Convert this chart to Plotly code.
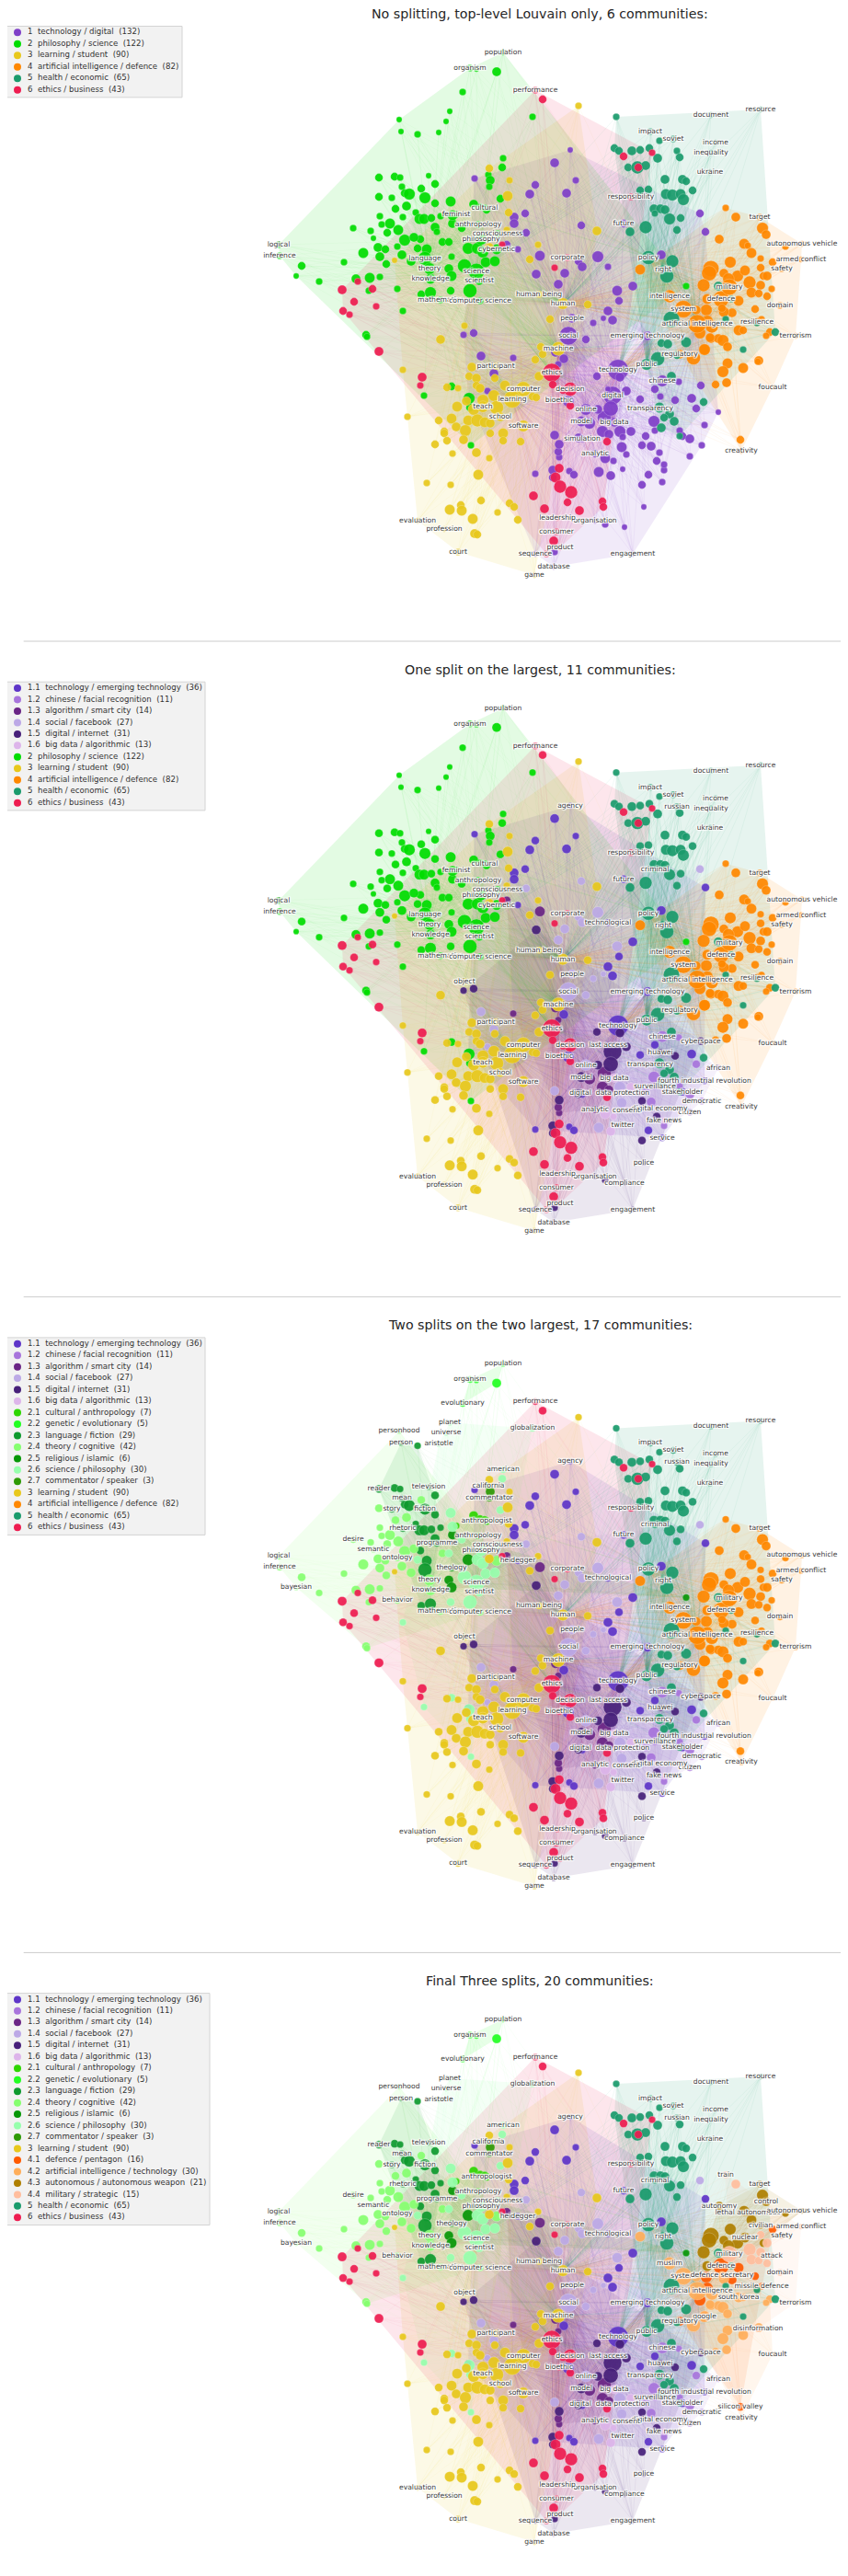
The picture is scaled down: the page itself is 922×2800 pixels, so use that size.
"""
Louvain community splits on a co-occurrence network: four stacked panels,
each one the same layout, with hulls, faint edges, nodes and word labels.
Node positions are read off the picture, in pixels of the first panel.
"""
import plotly.graph_objects as go

# node = (x, y, radius) or (x, y, radius, label) or (x, y, radius, label, first panel, last panel)

# --- 1 technology
c11 = [
    (620, 163, 2.5, "agency", 2, 4), (603, 177, 4), (582, 201, 3.5), (576, 211, 4), (626, 196, 3), (616, 210, 4),
    (571, 232, 3.5), (559, 236, 4), (559, 243, 4), (719, 277, 4), (767, 252, 3.5), (678, 243, 3.5, "future"),
    (688, 311, 4), (673, 327, 3.5), (661, 338, 4), (666, 348, 4), (704, 365, 4, "emerging technology"),
    (672, 402, 9, "technology"), (613, 390, 4), (696, 434, 3.5), (712, 423, 3.5), (752, 433, 4), (705, 516, 3.5),
    (619, 512, 3), (624, 516, 3.5), (582, 515, 3), (509, 431, 3), (618, 436, 5), (720, 524, 3, "service", 2, 4),
    (563, 271, 3, "heidegger", 3, 4), (516, 194, 3), (661, 290, 3, "technological", 2, 4), (633, 477, 3, "simulation", 1, 1),
    (766, 462, 3, "fourth industrial revolution", 2, 4), (742, 474, 3.5, "stakeholder", 2, 4),
]
c12 = [
    (720, 414, 5, "chinese"), (757, 444, 3.5), (738, 415, 3), (711, 458, 5), (708, 485, 4), (702, 474, 3.5),
    (750, 477, 4), (722, 511, 3), (739, 468, 3), (763, 484, 3, "democratic", 2, 4), (750, 496, 3, "citizen", 2, 4),
    (781, 448, 2.5, "african", 2, 4), (712, 468, 3, "surveillance", 2, 4),
]
c13 = [
    (587, 278, 4.5), (551, 266, 3.5), (558, 389, 3), (607, 396, 3), (604, 383, 4), (657, 454, 6), (655, 469, 5),
    (641, 460, 5), (608, 497, 3), (607, 491, 3.5), (647, 493, 3.5, "analytic"), (662, 472, 4),
]
c14 = [
    (572, 253, 3.5), (632, 245, 3.5), (650, 279, 5), (629, 284, 3.5), (633, 290, 4), (614, 297, 4), (607, 309, 4),
    (671, 316, 4.5), (761, 232, 3.5), (645, 351, 3), (618, 365, 8, "social"), (637, 369, 3.5), (622, 346, 4, "people"),
    (523, 387, 4), (537, 406, 4), (530, 425, 3), (603, 473, 4), (674, 469, 5), (676, 486, 4.5),
    (637, 445, 5, "online"), (651, 513, 4.5), (656, 346, 2.5), (717, 492, 3, "digital economy", 2, 4),
]
c15 = [
    (504, 364, 3), (515, 362, 3.5), (649, 409, 3.5), (674, 410, 4), (666, 430, 8, "digital", 1, 1), (664, 444, 6.5),
    (681, 425, 4), (650, 445, 4), (734, 435, 3.5), (698, 484, 3.5), (714, 501, 3.5), (698, 527, 3.5), (608, 483, 4),
    (583, 298, 4), (762, 419, 3.5, "cyberspace", 2, 4), (601, 511, 4), (601, 519, 3.5), (603, 600, 3),
    (632, 458, 4.5, "model"), (629, 476, 4), (718, 431, 3, "huawei", 2, 4), (602, 616, 2.5, "database"),
    (658, 570, 3), (647, 566, 2.5, "organisation"), (679, 573, 2.5, "compliance", 2, 4), (700, 551, 2.5, "police", 2, 4),
    (688, 602, 2.5, "engagement"), (582, 602, 2.5, "sequence"), (661, 423, 2.5, "last access", 2, 4),
]
c16 = [
    (658, 498, 4.5), (667, 501, 3), (664, 517, 4), (686, 469, 4), (668, 459, 4, "big data"), (681, 494, 3, "consent", 2, 4),
    (707, 444, 3, "transparency"), (677, 475, 3, "data protection", 2, 4), (722, 505, 3, "fake news", 2, 4),
    (677, 510, 2.5, "twitter", 2, 4),
]

# --- 2 philosophy
c21 = [
    (515, 222, 4), (522, 225, 3), (529, 228, 3.5, "anthropologist", 3, 4), (520, 244, 3, "anthropology"),
    (527, 226, 3, "cultural", 1, 2), (496, 233, 3, "feminist", 1, 2),
]
c22 = [
    (540, 78, 4), (547, 57, 2.5, "population"), (511, 74, 3, "organism"), (503, 100, 3, "evolutionary", 3, 4), (518, 75, 2.5),
]
c23 = [
    (412, 193, 3.5, "reader", 3, 4), (429, 192, 3.5), (435, 193, 3), (454, 146, 3), (436, 143, 2.5, "person", 3, 4),
    (466, 191, 2.5, "television", 3, 4), (473, 200, 3.5), (437, 203, 3, "mean", 3, 4), (440, 210, 3.5), (445, 211, 5),
    (462, 215, 5, "fiction", 3, 4), (473, 221, 3.5), (426, 215, 3, "story", 3, 4), (452, 231, 3), (456, 238, 4.5),
    (461, 238, 4.5), (469, 237, 3.5), (479, 235, 3), (438, 236, 3, "rhetoric", 3, 4), (473, 247, 4),
    (475, 252, 3, "programme", 3, 4), (457, 260, 3.5), (464, 271, 4.5), (462, 281, 6, "language", 1, 2),
    (458, 320, 3.5), (468, 318, 5),
]
c24 = [
    (412, 214, 3.5), (458, 205, 3.5), (430, 227, 3.5), (442, 224, 4), (413, 235, 3), (415, 244, 3), (424, 243, 4.5),
    (403, 251, 3), (384, 248, 3, "desire", 3, 4), (421, 253, 3.5), (433, 250, 4.5), (440, 261, 5),
    (406, 259, 2.5, "semantic", 3, 4), (450, 258, 4), (395, 275, 4.5), (411, 269, 4), (419, 271, 3.5),
    (432, 268, 3, "ontology", 3, 4), (413, 279, 4), (437, 277, 4), (420, 287, 3.5), (447, 284, 4), (374, 285, 3),
    (481, 263, 3.5), (303, 266, 3, "logical"), (304, 278, 3, "inference"), (328, 289, 3.5),
    (322, 300, 2.5, "bayesian", 3, 4), (347, 306, 3), (387, 303, 4), (402, 302, 4.5), (413, 301, 3), (401, 316, 3),
    (398, 364, 3.5), (399, 366, 3), (432, 314, 3, "behavior", 3, 4), (467, 292, 5, "theory"), (468, 303, 4.5, "knowledge"),
    (479, 326, 3, "mathematics"), (522, 327, 3, "computer science"), (540, 271, 4.5, "cybernetic", 1, 2),
    (434, 130, 2.5, "personhood", 3, 4),
]
c25 = [
    (509, 270, 5), (492, 243, 4), (491, 279, 3, "theology", 3, 4), (488, 292, 4), (491, 300, 4.5), (746, 311, 3),
]
c26 = [
    (490, 219, 4.5), (492, 234, 4.5), (502, 248, 3.5), (488, 263, 3.5), (454, 270, 3.5), (519, 270, 5), (525, 274, 5),
    (528, 285, 4.5), (538, 284, 4.5), (505, 289, 6), (518, 295, 7, "science"), (521, 305, 4, "scientist"), (511, 316, 6),
    (490, 316, 3.5), (438, 338, 3), (546, 182, 3.5), (544, 216, 3.5), (523, 260, 5, "philosophy"),
    (541, 254, 3, "consciousness"), (510, 433, 5), (511, 443, 3.5), (491, 420, 3.5), (461, 430, 3), (512, 484, 3),
    (477, 144, 2.5, "aristotle", 3, 4), (485, 132, 2.5, "universe", 3, 4), (489, 121, 2.5, "planet", 3, 4),
    (547, 172, 3, "american", 3, 4), (579, 127, 3, "globalization", 3, 4),
]
c27 = [(531, 190, 3, "california", 3, 4), (533, 196, 4), (532, 203, 3, "commentator", 3, 4)]

# --- 3 learning
c3 = [
    (629, 115, 3), (532, 183, 3.5), (554, 196, 3), (552, 213, 4.5), (553, 231, 3.5), (585, 266, 3), (576, 282, 3.5),
    (649, 251, 4), (586, 320, 3, "human being"), (612, 330, 5, "human"), (639, 331, 3.5), (598, 347, 3.5), (532, 269, 4),
    (429, 283, 2.5), (551, 250, 3), (479, 369, 4), (438, 402, 3), (588, 377, 3.5), (607, 379, 6, "machine"),
    (590, 385, 3.5), (582, 391, 3.5), (513, 399, 4), (539, 398, 3, "participant"), (510, 409, 3.5), (518, 411, 4),
    (538, 411, 3.5), (586, 409, 4), (518, 419, 3.5), (522, 422, 4), (549, 419, 4.5), (569, 423, 6.5, "computer"),
    (486, 421, 3.5), (498, 422, 3), (537, 430, 5), (557, 434, 7.5, "learning"), (579, 431, 3.5), (583, 432, 3.5),
    (507, 436, 4), (525, 435, 5), (497, 442, 4.5), (515, 445, 5), (525, 442, 5, "teach"), (540, 443, 6), (443, 453, 3),
    (477, 457, 3.5), (491, 455, 4.5), (509, 457, 4.5), (519, 457, 5.5), (527, 459, 4.5), (533, 460, 4),
    (544, 453, 4, "school"), (496, 464, 4), (483, 469, 3.5), (483, 471, 3.5), (506, 468, 5), (569, 463, 5, "software"),
    (547, 471, 4.5), (533, 471, 3.5), (486, 479, 3.5), (504, 478, 4), (547, 479, 3.5), (566, 480, 3.5), (473, 483, 3.5),
    (518, 492, 4), (492, 493, 3), (532, 498, 3), (520, 516, 4.5), (464, 525, 3), (490, 527, 3), (523, 544, 3.5),
    (501, 549, 3.5), (489, 554, 4.5), (502, 555, 4.5), (554, 547, 3.5), (559, 551, 3.5), (541, 557, 3), (514, 564, 4.5),
    (563, 565, 3.5), (516, 580, 4), (519, 581, 3.5), (454, 566, 2.5, "evaluation"), (483, 575, 2.5, "profession"),
    (498, 600, 3, "court"), (581, 625, 2.5, "game"), (505, 354, 3, "object", 2, 4),
]

# --- 4 artificial intelligence
c41 = [
    (784, 325, 7, "defence"), (803, 327, 4.5), (840, 285, 3.5), (768, 337, 5), (796, 340, 4), (769, 349, 5), (761, 362, 5),
    (828, 347, 3, "missile defence", 4, 4), (766, 380, 4.5, "google", 4, 4), (739, 385, 4, "regulatory"), (821, 336, 3.5),
    (805, 478, 3.5, "silicon valley", 4, 4),
]
c42 = [
    (696, 293, 4.5), (728, 322, 5.5, "intelligence", 1, 3), (743, 336, 7.5, "system"), (757, 337, 4),
    (758, 352, 8, "artificial intelligence"), (774, 355, 5.5), (787, 339, 4.5), (773, 368, 4), (781, 368, 4),
    (786, 370, 5), (791, 377, 4), (754, 389, 6), (803, 359, 4.5, "south korea", 4, 4), (837, 361, 3.5), (833, 365, 3),
    (766, 380, 5), (791, 395, 4.5), (808, 400, 4.5), (786, 404, 5), (825, 392, 4), (790, 416, 4), (778, 418, 3.5),
    (806, 490, 2.5, "creativity"), (772, 367, 4), (823, 350, 3.5, "resilience", 1, 3), (808, 359, 3.5),
    (785, 335, 3.5, "defence secretary", 4, 4), (840, 421, 2, "foucault"),
]
c43 = [
    (782, 260, 4, "autonomy", 4, 4), (809, 265, 4.5), (813, 267, 3, "lethal autonomous", 4, 4), (829, 248, 5),
    (833, 255, 4, "control", 4, 4), (854, 268, 3), (872, 265, 2.5, "autonomous vehicle"), (817, 275, 4.5), (794, 285, 5),
    (773, 292, 7), (771, 297, 6.5), (787, 297, 4), (802, 300, 5), (792, 303, 5), (765, 310, 5.5), (830, 300, 3.5),
    (769, 325, 4.5), (810, 294, 4.5, "nuclear", 4, 4), (827, 281, 3, "civilian", 4, 4), (826, 236, 3, "target"),
]
c44 = [
    (789, 226, 3, "train", 4, 4), (800, 236, 4), (815, 307, 5.5), (793, 312, 7, "military"), (817, 318, 4.5), (827, 310, 4),
    (825, 319, 3.5), (834, 322, 3.5), (839, 314, 3, "attack", 4, 4), (834, 300, 4), (827, 291, 3.5),
    (871, 282, 2.5, "armed conflict"), (850, 292, 3, "safety"), (848, 332, 3, "domain"), (865, 365, 2.5, "terrorism"),
    (824, 393, 3, "disinformation", 4, 4),
]

# --- 5 health, 6 ethics
c5 = [
    (670, 127, 3), (717, 153, 3), (707, 143, 3, "impact"), (732, 151, 3, "soviet"), (778, 155, 2.5, "income"),
    (773, 166, 2.5, "inequality"), (736, 164, 3, "russian", 2, 4), (668, 161, 3.5), (673, 164, 3.5), (687, 164, 4),
    (696, 163, 3.5), (706, 161, 3.5), (715, 172, 4), (739, 171, 3.5), (683, 182, 3.5), (693, 182, 5.5), (702, 180, 4),
    (772, 187, 2.5, "ukraine"), (723, 195, 4), (742, 195, 4), (746, 197, 3.5), (696, 207, 3.5), (705, 206, 3.5),
    (753, 207, 3.5), (724, 211, 4.5), (731, 212, 5), (740, 211, 4.5), (743, 217, 5), (711, 227, 4), (718, 227, 4),
    (723, 228, 4), (712, 232, 3, "criminal", 2, 4), (728, 238, 5), (740, 237, 3.5), (685, 252, 4), (702, 247, 5.5),
    (736, 250, 3.5), (827, 119, 2.5, "resource"), (773, 125, 2.5, "document"), (705, 280, 6, "policy"), (731, 284, 5.5),
    (721, 293, 4, "right"), (725, 300, 6), (781, 311, 4), (730, 347, 7), (795, 325, 3), (823, 351, 3), (789, 347, 3),
    (843, 361, 3.5), (719, 373, 3.5), (726, 374, 4), (746, 372, 4.5), (715, 390, 6), (703, 396, 5, "public"), (736, 386, 3.5),
    (808, 380, 3), (730, 409, 4), (717, 443, 4.5), (728, 450, 4), (722, 454, 3.5), (733, 458, 4), (765, 437, 3.5),
    (719, 465, 4), (739, 474, 3),
]
c6 = [
    (372, 315, 4), (389, 306, 3), (405, 314, 3.5), (385, 328, 3.5), (409, 333, 3), (373, 338, 3.5), (380, 342, 3),
    (412, 382, 4), (459, 410, 4), (457, 419, 3), (582, 98, 3, "performance"), (590, 108, 3.5), (678, 170, 3.5),
    (709, 166, 3), (694, 182, 3.5), (686, 214, 3, "responsibility"), (617, 280, 3, "corporate"), (603, 291, 3), (546, 266, 3),
    (600, 405, 8, "ethics"), (601, 418, 3.5), (620, 423, 6, "decision"), (612, 424, 3.5), (608, 435, 3, "bioethic"),
    (620, 441, 3.5), (660, 480, 3.5), (608, 509, 4), (604, 519, 4.5), (609, 529, 5.5), (621, 535, 5.5), (580, 539, 4),
    (617, 546, 3.5), (592, 553, 4), (655, 545, 3.5), (656, 551, 3.5), (630, 555, 4), (606, 563, 2.5, "leadership"),
    (605, 578, 3, "consumer"), (602, 588, 4), (609, 595, 2.5, "product"), (594, 602, 3),
]

# labels sitting on a node that already has another label in other panels
extra_labels = [("muslim", 728, 322, 4, 4), ("digital", 631, 475, 2, 4)]

fine_nodes = {
    "1.1": c11, "1.2": c12, "1.3": c13, "1.4": c14, "1.5": c15, "1.6": c16,
    "2.1": c21, "2.2": c22, "2.3": c23, "2.4": c24, "2.5": c25, "2.6": c26, "2.7": c27,
    "3": c3, "4.1": c41, "4.2": c42, "4.3": c43, "4.4": c44, "5": c5, "6": c6,
}

community_names = {
    "1": "technology / digital", "2": "philosophy / science", "3": "learning / student",
    "4": "artificial intelligence / defence", "5": "health / economic", "6": "ethics / business",
    "1.1": "technology / emerging technology", "1.2": "chinese / facial recognition",
    "1.3": "algorithm / smart city", "1.4": "social / facebook", "1.5": "digital / internet",
    "1.6": "big data / algorithmic", "2.1": "cultural / anthropology", "2.2": "genetic / evolutionary",
    "2.3": "language / fiction", "2.4": "theory / cognitive", "2.5": "religious / islamic",
    "2.6": "science / philosophy", "2.7": "commentator / speaker", "4.1": "defence / pentagon",
    "4.2": "artificial intelligence / technology", "4.3": "autonomous / autonomous weapon",
    "4.4": "military / strategic",
}
community_counts = {
    "1": 132, "2": 122, "3": 90, "4": 82, "5": 65, "6": 43,
    "1.1": 36, "1.2": 11, "1.3": 14, "1.4": 27, "1.5": 31, "1.6": 13,
    "2.1": 7, "2.2": 5, "2.3": 29, "2.4": 42, "2.5": 6, "2.6": 30, "2.7": 3,
    "4.1": 16, "4.2": 30, "4.3": 21, "4.4": 15,
}
community_colors = {
    "1": "#7F3FC8", "2": "#00DD00", "3": "#E8C81C", "4": "#FF8800", "5": "#1A9B6C", "6": "#EE1C50",
    "1.1": "#5E35C8", "1.2": "#A875DC", "1.3": "#6A2585", "1.4": "#BCA9E6", "1.5": "#47207A", "1.6": "#DDB5EA",
    "2.1": "#2ED600", "2.2": "#22FF22", "2.3": "#0E9A2E", "2.4": "#86FF70", "2.5": "#079707", "2.6": "#97FFAD",
    "2.7": "#2E9A05", "4.1": "#FF5A00", "4.2": "#FFAE5A", "4.3": "#AF7F00", "4.4": "#FFBE9E",
}
edge_alpha = {"1": 0.11, "2": 0.06, "3": 0.08, "4": 0.1, "5": 0.11, "6": 0.07}

panel_titles = [
    "No splitting, top-level Louvain only, 6 communities:",
    "One split on the largest, 11 communities:",
    "Two splits on the two largest, 17 communities:",
    "Final Three splits, 20 communities:",
]
panel_splits = [[], ["1"], ["1", "2"], ["1", "2", "4"]]
panel_tops = [0, 712.7, 1425.4, 2138.1]
legend_right = [198, 223, 223, 228]

# edges run to the hub words of a node's community, and to the nearest other hubs
own_hubs = {
    "1": ["technology", "social", "online", "big data", "emerging technology"],
    "2": ["science", "philosophy", "theory", "knowledge"],
    "3": ["learning", "computer", "teach"],
    "4": ["artificial intelligence", "system", "military", "defence"],
    "5": ["policy", "public", "right"],
    "6": ["ethics", "decision"],
}
cross_hubs = ["technology", "ethics", "artificial intelligence", "science", "learning", "policy", "machine", "human"]


def rgba(hex_color, alpha):
    r, g, b = int(hex_color[1:3], 16), int(hex_color[3:5], 16), int(hex_color[5:7], 16)
    return f"rgba({r},{g},{b},{alpha})"


def convex_hull(points):
    pts = sorted(set(points))

    def half(seq):
        out = []
        for p in seq:
            while len(out) > 1 and (out[-1][0] - out[-2][0]) * (p[1] - out[-2][1]) - (out[-1][1] - out[-2][1]) * (p[0] - out[-2][0]) <= 0:
                out.pop()
            out.append(p)
        return out[:-1]

    return half(pts) + half(pts[::-1])


def panel_key(fine, splits):
    coarse = fine.split(".")[0]
    return fine if coarse in splits else coarse


hub_xy = {n[3]: n[:2] for nodes in fine_nodes.values() for n in nodes if len(n) > 3}

fig = go.Figure()
shapes = []

for p, (title, splits, top, right) in enumerate(zip(panel_titles, panel_splits, panel_tops, legend_right)):
    groups = {}
    for fine, nodes in fine_nodes.items():
        groups.setdefault(panel_key(fine, splits), []).extend(nodes)

    # hulls
    for key, nodes in groups.items():
        hull = convex_hull([n[:2] for n in nodes])
        fig.add_trace(go.Scatter(
            x=[h[0] for h in hull], y=[h[1] + top for h in hull],
            mode="lines", fill="toself", fillcolor=rgba(community_colors[key], 0.11),
            line=dict(width=0), hoverinfo="skip",
        ))

    # edges
    for key, nodes in groups.items():
        ex, ey = [], []
        coarse = key.split(".")[0]
        for n in nodes:
            others = [h for h in cross_hubs if h not in own_hubs[coarse]]
            others.sort(key=lambda h: (hub_xy[h][0] - n[0]) ** 2 + (hub_xy[h][1] - n[1]) ** 2)
            for hub in own_hubs[coarse] + others[:3]:
                hx, hy = hub_xy[hub]
                ex += [n[0], hx, None]
                ey += [n[1] + top, hy + top, None]
        fig.add_trace(go.Scatter(
            x=ex, y=ey, mode="lines",
            line=dict(color=rgba(community_colors[key], edge_alpha[coarse]), width=0.5),
            hoverinfo="skip",
        ))

    # nodes
    for key, nodes in groups.items():
        fig.add_trace(go.Scatter(
            x=[n[0] for n in nodes], y=[n[1] + top for n in nodes], mode="markers",
            marker=dict(size=[n[2] * 2.5 for n in nodes], color=community_colors[key], opacity=0.92,
                        line=dict(color="rgba(255,255,255,0.6)", width=0.4)),
            hoverinfo="skip",
        ))

    # word labels
    lx, ly, lt = [], [], []
    for nodes in fine_nodes.values():
        for n in nodes:
            if len(n) > 3:
                first, last = (n[4], n[5]) if len(n) > 4 else (1, 4)
                if first <= p + 1 <= last:
                    lx.append(n[0])
                    ly.append(n[1] + top)
                    lt.append(n[3])
    for word, x, y, first, last in extra_labels:
        if first <= p + 1 <= last:
            lx.append(x)
            ly.append(y + top)
            lt.append(word)
    fig.add_trace(go.Scatter(
        x=lx, y=ly, text=lt, mode="text", textposition="middle center",
        textfont=dict(family="DejaVu Sans", size=7.6, color="#3a3a3a",
                      shadow="1px 0 1px #fff, -1px 0 1px #fff, 0 1px 1px #fff, 0 -1px 1px #fff, "
                             "1px 1px 1px #fff, -1px -1px 1px #fff, 1px -1px 1px #fff, -1px 1px 1px #fff"),
        hoverinfo="skip",
    ))

    # legend box
    keys = sorted(groups)
    row_y = [top + 35.3 + 12.47 * i for i in range(len(keys))]
    shapes.append(dict(type="rect", x0=7, x1=right, y0=top + 28.5, y1=row_y[-1] + 8.2, xref="x", yref="y",
                       layer="below", fillcolor="#F2F2F2", line=dict(color="#D4D4D4", width=1)))
    fig.add_trace(go.Scatter(
        x=[19] * len(keys), y=row_y, mode="markers",
        marker=dict(size=8, color=[community_colors[k] for k in keys]), hoverinfo="skip",
    ))
    fig.add_trace(go.Scatter(
        x=[30] * len(keys), y=row_y,
        text=[f"{k}  {community_names[k]}  ({community_counts[k]})" for k in keys],
        mode="text", textposition="middle right",
        textfont=dict(family="DejaVu Sans", size=8.6, color="#333333"), hoverinfo="skip",
    ))

    fig.add_annotation(x=587, y=top + 15, text=title, xref="x", yref="y", showarrow=False, borderpad=0,
                       font=dict(family="DejaVu Sans", size=14.2, color="#262626"))

    # separator under every panel but the last
    if p < 3:
        shapes.append(dict(type="line", x0=25.7, x1=915, y0=top + 697, y1=top + 697, xref="x", yref="y",
                           layer="below", line=dict(color="#CCCCCC", width=1)))

fig.update_layout(
    width=914,
    height=2792,
    margin=dict(l=0, r=0, t=0, b=0),
    showlegend=False,
    plot_bgcolor="white",
    paper_bgcolor="white",
    hovermode=False,
    shapes=shapes,
    xaxis=dict(range=[8, 922], visible=False, fixedrange=True),
    yaxis=dict(range=[2800, 8], visible=False, fixedrange=True),
)

fig.write_html("out.html", config=dict(displayModeBar=False))
